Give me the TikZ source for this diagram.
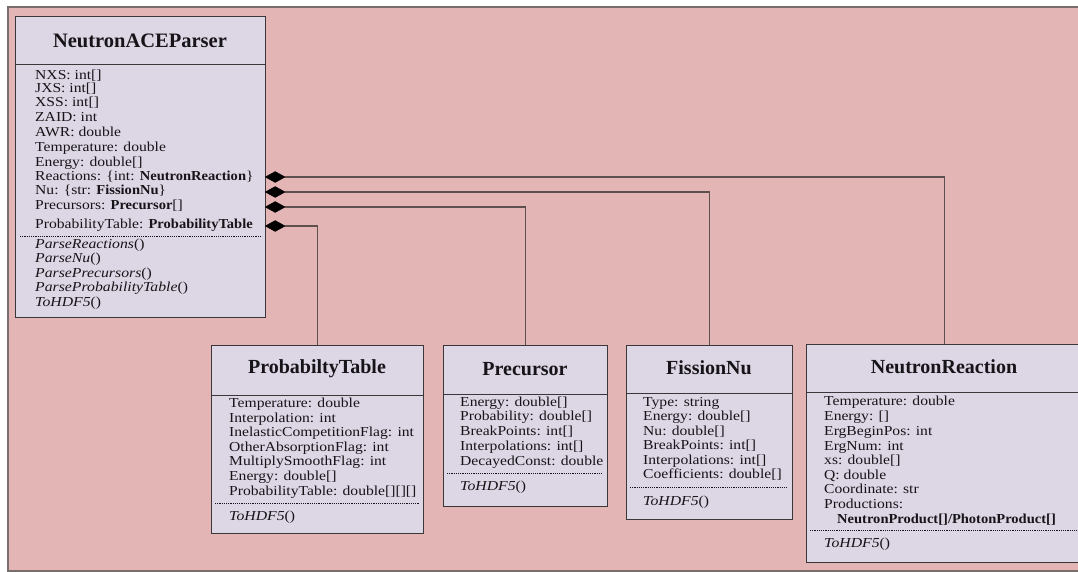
\documentclass[tikz,border=0pt]{standalone}
\usepackage{fontspec}
\setmainfont{Liberation Serif}[
  UprightFeatures={FakeStretch=1.14},
  ItalicFeatures={FakeStretch=1.15},
  BoldFeatures={FakeStretch=1.06}]
\newfontfamily\titlefont{Liberation Serif}
\usetikzlibrary{shapes.geometric}

\definecolor{bgpink}{RGB}{227,181,181}
\definecolor{bgedge}{RGB}{120,110,110}
\definecolor{boxfill}{RGB}{221,215,229}
\definecolor{edge}{RGB}{58,54,58}
\definecolor{ink}{RGB}{22,20,24}
\definecolor{wirecol}{RGB}{95,80,80}

\tikzset{
  classbox/.style={draw=edge, line width=1.1pt, fill=boxfill, anchor=north west, inner sep=0pt},
  divider/.style={draw=edge, line width=1pt},
  dotsep/.style={draw=ink, line width=0.7pt, dash pattern=on 1.1pt off 1.1pt},
  attr/.style={anchor=mid west, inner sep=0pt, text=ink, font=\fontsize{13.7}{15}\selectfont},
  classtitle/.style={inner sep=0pt, text=ink, font=\titlefont\bfseries\fontsize{20}{22}\selectfont},
  owns/.style={diamond, fill=black, draw=black, line width=0.4pt, minimum width=20pt, minimum height=11pt, inner sep=0pt, anchor=west},
  wire/.style={draw=wirecol, line width=1.2pt}
}

\begin{document}
\begin{tikzpicture}[x=1pt,y=-1pt]
\useasboundingbox (0,0) rectangle (1078,572);
\clip (0,0) rectangle (1078,572);
\fill[white] (0,0) rectangle (1078,572);
\draw[draw=bgedge, line width=1.4pt, fill=bgpink] (8,7) rectangle (1100,571);

% ---- NeutronACEParser ----
\node[classbox, minimum width=250pt, minimum height=301pt] (parser) at (15,16) {};
\node[classtitle, font=\titlefont\bfseries\fontsize{20.5}{22}\selectfont] (parserT) at (140,41) {NeutronACEParser};
\draw[divider] (15,65) -- (265,65);
\node[attr] (pa1) at (35,77) {NXS: int[]};
\node[attr] (pa2) at (35,90) {JXS: int[]};
\node[attr] (pa3) at (35,104) {XSS: int[]};
\node[attr] (pa4) at (35,119) {ZAID: int};
\node[attr] (pa5) at (35,134) {AWR: double};
\node[attr] (pa6) at (35,149) {Temperature: double};
\node[attr] (pa7) at (35,164) {Energy: double[]};
\node[attr] (pa8) at (35,178) {Reactions: \{int: \textbf{NeutronReaction}\}};
\node[attr] (pa9) at (35,192) {Nu: \{str: \textbf{FissionNu}\}};
\node[attr] (pa10) at (35,207) {Precursors: \textbf{Precursor}[]};
\node[attr] (pa11) at (35,226) {ProbabilityTable: \textbf{ProbabilityTable}};
\draw[dotsep] (20,236) -- (262,236);
\node[attr] (pm1) at (35,246) {\textit{ParseReactions}()};
\node[attr] (pm2) at (35,260) {\textit{ParseNu}()};
\node[attr] (pm3) at (35,275) {\textit{ParsePrecursors}()};
\node[attr] (pm4) at (35,289) {\textit{ParseProbabilityTable}()};
\node[attr] (pm5) at (35,304) {\textit{ToHDF5}()};

% ---- ProbabiltyTable ----
\node[classbox, minimum width=212pt, minimum height=188pt] (probtable) at (211,345) {};
\node[classtitle] (probtableT) at (317,369) {ProbabiltyTable};
\draw[divider] (211,395) -- (423,395);
\node[attr] (ta1) at (229,405) {Temperature: double};
\node[attr] (ta2) at (229,420) {Interpolation: int};
\node[attr] (ta3) at (229,434) {InelasticCompetitionFlag: int};
\node[attr] (ta4) at (229,449) {OtherAbsorptionFlag: int};
\node[attr] (ta5) at (229,463) {MultiplySmoothFlag: int};
\node[attr] (ta6) at (229,478) {Energy: double[]};
\node[attr] (ta7) at (229,493) {ProbabilityTable: double[][][]};
\draw[dotsep] (215,503) -- (419,503);
\node[attr] (tm1) at (229,518) {\textit{ToHDF5}()};

% ---- Precursor ----
\node[classbox, minimum width=164pt, minimum height=161pt] (precursor) at (443,345) {};
\node[classtitle] (precursorT) at (525,369) {Precursor};
\draw[divider] (443,394) -- (607,394);
\node[attr] (ra1) at (460,404) {Energy: double[]};
\node[attr] (ra2) at (460,418) {Probability: double[]};
\node[attr] (ra3) at (460,433) {BreakPoints: int[]};
\node[attr] (ra4) at (460,448) {Interpolations: int[]};
\node[attr] (ra5) at (460,463) {DecayedConst: double};
\draw[dotsep] (447,473) -- (603,473);
\node[attr] (rm1) at (460,488) {\textit{ToHDF5}()};

% ---- FissionNu ----
\node[classbox, minimum width=166pt, minimum height=174pt] (fission) at (626,345) {};
\node[classtitle] (fissionT) at (709,368) {FissionNu};
\draw[divider] (626,393) -- (792,393);
\node[attr] (fa1) at (643,404) {Type: string};
\node[attr] (fa2) at (643,418) {Energy: double[]};
\node[attr] (fa3) at (643,433) {Nu: double[]};
\node[attr] (fa4) at (643,447) {BreakPoints: int[]};
\node[attr] (fa5) at (643,462) {Interpolations: int[]};
\node[attr] (fa6) at (643,476) {Coefficients: double[]};
\draw[dotsep] (630,487) -- (788,487);
\node[attr] (fm1) at (643,503) {\textit{ToHDF5}()};

% ---- NeutronReaction ----
\node[classbox, minimum width=276pt, minimum height=218pt] (reaction) at (806,344) {};
\node[classtitle] (reactionT) at (944,367) {NeutronReaction};
\draw[divider] (806,392) -- (1082,392);
\node[attr] (na1) at (824,403) {Temperature: double};
\node[attr] (na2) at (824,418) {Energy: []};
\node[attr] (na3) at (824,433) {ErgBeginPos: int};
\node[attr] (na4) at (824,448) {ErgNum: int};
\node[attr] (na5) at (824,462) {xs: double[]};
\node[attr] (na6) at (824,477) {Q: double};
\node[attr] (na7) at (824,491) {Coordinate: str};
\node[attr] (na8) at (824,506) {Productions:};
\node[attr] (na9) at (837,521) {\textbf{NeutronProduct[]/PhotonProduct[]}};
\draw[dotsep] (810,530) -- (1078,530);
\node[attr] (nm1) at (824,545) {\textit{ToHDF5}()};

% ---- composition connectors ----
\node[owns] (dReac) at (265,177) {};
\node[owns] (dNu)   at (265,192) {};
\node[owns] (dPrec) at (265,207) {};
\node[owns] (dProb) at (265,226) {};
\draw[wire] (dReac.east) -| (reaction.north);
\draw[wire] (dNu.east)   -| (fission.north);
\draw[wire] (dPrec.east) -| (precursor.north);
\draw[wire] (dProb.east) -| (probtable.north);
\end{tikzpicture}
\end{document}
